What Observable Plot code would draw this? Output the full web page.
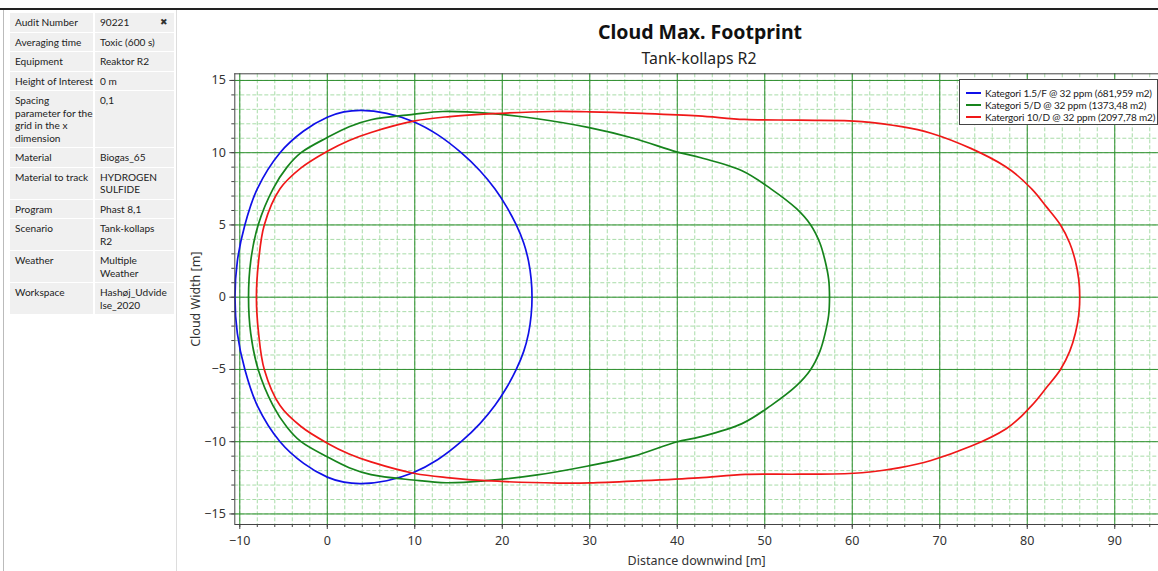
<!DOCTYPE html>
<html>
<head>
<meta charset="utf-8">
<script src="https://cdn.jsdelivr.net/npm/d3@7"></script>
<script src="https://cdn.jsdelivr.net/npm/@observablehq/plot@0.6"></script>
<style>
  html, body { margin: 0; padding: 0; background: #fff; }
  #page { position: relative; width: 1158px; height: 571px; overflow: hidden; font-family: "Noto Sans", "Open Sans", sans-serif; }
  #topline { position: absolute; left: 0; top: 8px; width: 1158px; height: 2px; background: #222; }
  #panel { position: absolute; left: 3px; top: 10px; width: 172px; height: 561px; border-left: 1px solid #bbb; border-right: 1px solid #ddd; background: #fff; }
  #panel table { position: absolute; left: 4px; top: 2px; border-collapse: separate; border-spacing: 2px 1px; table-layout: fixed; width: 166px; font-family: Lato, "Noto Sans", sans-serif; font-size: 10.1px; color: #222; }
  #panel td { background: #f0f0f0; vertical-align: top; padding: 3px 3px 3px 5px; line-height: 12.5px; white-space: pre; overflow: visible; }
  #panel col.l { width: 83px; }
  #panel col.v { width: 79px; }
  #close { position: absolute; left: 160px; top: 15px; font-size: 9px; color: #333; }
  #title { position: absolute; left: 238px; width: 924px; top: 18px; text-align: center; font-weight: bold; font-size: 19.5px; color: #111; }
  #subtitle { position: absolute; left: 237px; width: 924px; top: 47px; text-align: center; font-size: 15.8px; color: #222; }
  #chart { position: absolute; left: 180px; top: 60px; }
  #legend { position: absolute; left: 959px; top: 79px; width: 197px; height: 44px; border: 1px solid #444; background: #fff; font-family: Lato, "Noto Sans", sans-serif; font-size: 10px; letter-spacing: -0.15px; color: #222; }
  .li { position: absolute; left: 6px; height: 12px; line-height: 12px; white-space: nowrap; }
  .sw { display: inline-block; width: 15px; height: 2px; vertical-align: middle; margin-right: 4px; position: relative; top: -1px; }
</style>
</head>
<body>
<div id="page">
  <div id="topline"></div>
  <div id="panel"></div>
  <div id="close">✖</div>
  <div id="title">Cloud Max. Footprint</div>
  <div id="subtitle">Tank-kollaps R2</div>
  <div id="chart"></div>
  <div id="legend"></div>
</div>
<script>
// ---- Info panel ----
const infoLabels = ["Audit Number", "Averaging time", "Equipment", "Height of Interest",
  "Spacing\nparameter for the\ngrid in the x\ndimension", "Material", "Material to track",
  "Program", "Scenario", "Weather", "Workspace"];
const infoValues = ["90221", "Toxic (600 s)", "Reaktor R2", "0 m", "0,1", "Biogas_65",
  "HYDROGEN\nSULFIDE", "Phast 8,1", "Tank-kollaps\nR2", "Multiple\nWeather", "Hashøj_Udvide\nlse_2020"];

// ---- Series ----
const seriesNames = ["Kategori 1.5/F @ 32 ppm (681,959 m2)", "Kategori 5/D @ 32 ppm (1373,48 m2)", "Katergori 10/D @ 32 ppm (2097,78 m2)"];
const seriesColors = ["#1010e8", "#16841c", "#f01818"];

const blueX = [-10.55, -10.28, -9.42, -8.0, -5.4, -2.7, 0, 1.9, 3.9, 6.8, 9.8, 12.6, 15.3, 17.45, 19.15, 20.5, 21.6, 22.45, 23.0, 23.3, 23.4,
  23.3, 23.0, 22.45, 21.6, 20.5, 19.15, 17.45, 15.3, 12.6, 9.8, 6.8, 3.9, 1.9, 0, -2.7, -5.4, -8.0, -9.42, -10.28];
const blueY = [0, 2.5, 5, 7.5, 10, 11.5, 12.45, 12.82, 12.93, 12.72, 12.16, 11.25, 10.0, 8.75, 7.5, 6.25, 5.0, 3.75, 2.5, 1.25, 0,
  -1.25, -2.5, -3.75, -5.0, -6.25, -7.5, -8.75, -10.0, -11.25, -12.15, -12.7, -12.9, -12.8, -12.45, -11.5, -10, -7.5, -5, -2.5];

const greenX = [-9.0, -8.75, -7.9, -6.2, -4.6, -3.0, 0, 2.5, 5, 9.8, 13.2, 18.9, 24, 29.8, 35, 39.9, 42.6, 47.4, 50.7, 53.6, 55.25, 56.3, 56.9, 57.3, 57.4,
  57.3, 56.9, 56.3, 55.25, 53.6, 50.7, 47.4, 42.6, 39.9, 35, 29.8, 24, 18.1, 13.6, 9.8, 5, 2.5, 0, -3.0, -4.6, -6.2, -7.9, -8.75];
const greenY = [0, 2.5, 5, 7.5, 9, 10, 11.05, 11.8, 12.28, 12.65, 12.85, 12.7, 12.35, 11.75, 11.0, 10.06, 9.67, 8.75, 7.5, 6.14, 5, 3.75, 2.5, 1.25, 0,
  -1.25, -2.5, -3.75, -5, -6.14, -7.5, -8.75, -9.67, -10.02, -11.0, -11.68, -12.3, -12.7, -12.84, -12.65, -12.28, -11.8, -11.05, -10, -9, -7.5, -5, -2.5];

const redX = [-8.1, -7.85, -7.2, -5.4, -3.0, 0, 2.5, 5, 10, 14, 18.9, 25.7, 30, 36, 42.4, 47.7, 54, 61.1, 69.0, 77.5, 80.5, 82.2, 83.8, 84.85, 85.5, 85.88, 86.0,
  85.88, 85.5, 84.85, 83.8, 82.2, 80.5, 77.6, 69.0, 61.1, 54, 47.8, 42.4, 36, 30, 26.4, 18.1, 14, 10, 5, 2.5, 0, -3.0, -5.4, -7.2, -7.85];
const redY = [0, 2.5, 5, 7.5, 8.95, 10.1, 10.85, 11.4, 12.2, 12.5, 12.7, 12.85, 12.83, 12.72, 12.55, 12.3, 12.25, 12.15, 11.35, 9.05, 7.5, 6.25, 5, 3.75, 2.5, 1.25, 0,
  -1.25, -2.5, -3.75, -5, -6.25, -7.5, -9.1, -11.3, -12.15, -12.25, -12.26, -12.5, -12.7, -12.85, -12.86, -12.7, -12.5, -12.2, -11.4, -10.85, -10.1, -8.95, -7.5, -5, -2.5];

// ---- Axis ticks ----
const xMajorTicks = [-10, 0, 10, 20, 30, 40, 50, 60, 70, 80, 90];
const yMajorTicks = [-15, -10, -5, 0, 5, 10, 15];
const xMinorTicks = d3.range(-10, 96, 2);
const yMinorTicks = d3.range(-15, 16, 1);

// panel
const tbl = document.createElement("table");
const cg = document.createElement("colgroup");
["l", "v"].forEach(c => { const col = document.createElement("col"); col.className = c; cg.append(col); });
tbl.append(cg);
infoLabels.forEach((l, i) => {
  const tr = document.createElement("tr");
  const a = document.createElement("td"); a.textContent = l;
  const b = document.createElement("td"); b.textContent = infoValues[i];
  tr.append(a, b); tbl.append(tr);
});
document.getElementById("panel").append(tbl);

function pts(xs, ys) { return xs.map((x, i) => ({x, y: ys[i]})); }
const series = [pts(blueX, blueY), pts(greenX, greenY), pts(redX, redY)];

const chart = Plot.plot({
  width: 978,
  height: 511,
  marginLeft: 54.3,
  marginRight: 0,
  marginTop: 13.3,
  marginBottom: 47,
  style: {fontFamily: "'Noto Sans', 'Open Sans', sans-serif", fontSize: "12.5px", color: "#333", background: "transparent"},
  x: {domain: [-10.57, 95]},
  y: {domain: [-15.73, 15.46]},
  marks: [
    Plot.ruleX(xMinorTicks, {stroke: "#a8dca8", strokeWidth: 1, strokeDasharray: "4,2"}),
    Plot.ruleY(yMinorTicks, {stroke: "#a8dca8", strokeWidth: 1, strokeDasharray: "4,2"}),
    Plot.ruleX(xMajorTicks, {stroke: "#2f8f2f", strokeWidth: 1}),
    Plot.ruleY(yMajorTicks, {stroke: "#2f8f2f", strokeWidth: 1}),
    ...series.map((d, i) => Plot.line(d, {x: "x", y: "y", stroke: seriesColors[i], strokeWidth: 1.7, curve: "catmull-rom-closed"})),
    Plot.ruleX([-10.57], {stroke: "#444", strokeWidth: 1}),
    Plot.ruleY([-15.73], {stroke: "#444", strokeWidth: 1}),
    Plot.ruleY([15.46], {stroke: "#444", strokeWidth: 1}),
    Plot.axisX(xMinorTicks, {tickSize: 3, tickFormat: () => "", label: null, stroke: "#444"}),
    Plot.axisX(xMajorTicks, {tickSize: 5, tickPadding: 7, label: "Distance downwind [m]", labelAnchor: "center", labelOffset: 40, labelArrow: "none", stroke: "#444", fill: "#333"}),
    Plot.axisY(yMinorTicks, {tickSize: 3, tickFormat: () => "", label: null, stroke: "#444"}),
    Plot.axisY(yMajorTicks, {tickSize: 5, tickPadding: 4, label: "Cloud Width [m]", labelAnchor: "center", labelOffset: 44, labelArrow: "none", stroke: "#444", fill: "#333"})
  ]
});
document.getElementById("chart").append(chart);

// legend
const leg = document.getElementById("legend");
seriesNames.forEach((n, i) => {
  const d = document.createElement("div");
  d.className = "li";
  d.style.top = (7 + i * 12) + "px";
  const s = document.createElement("span"); s.className = "sw"; s.style.background = seriesColors[i];
  d.append(s, document.createTextNode(n));
  leg.append(d);
});
</script>
</body>
</html>
